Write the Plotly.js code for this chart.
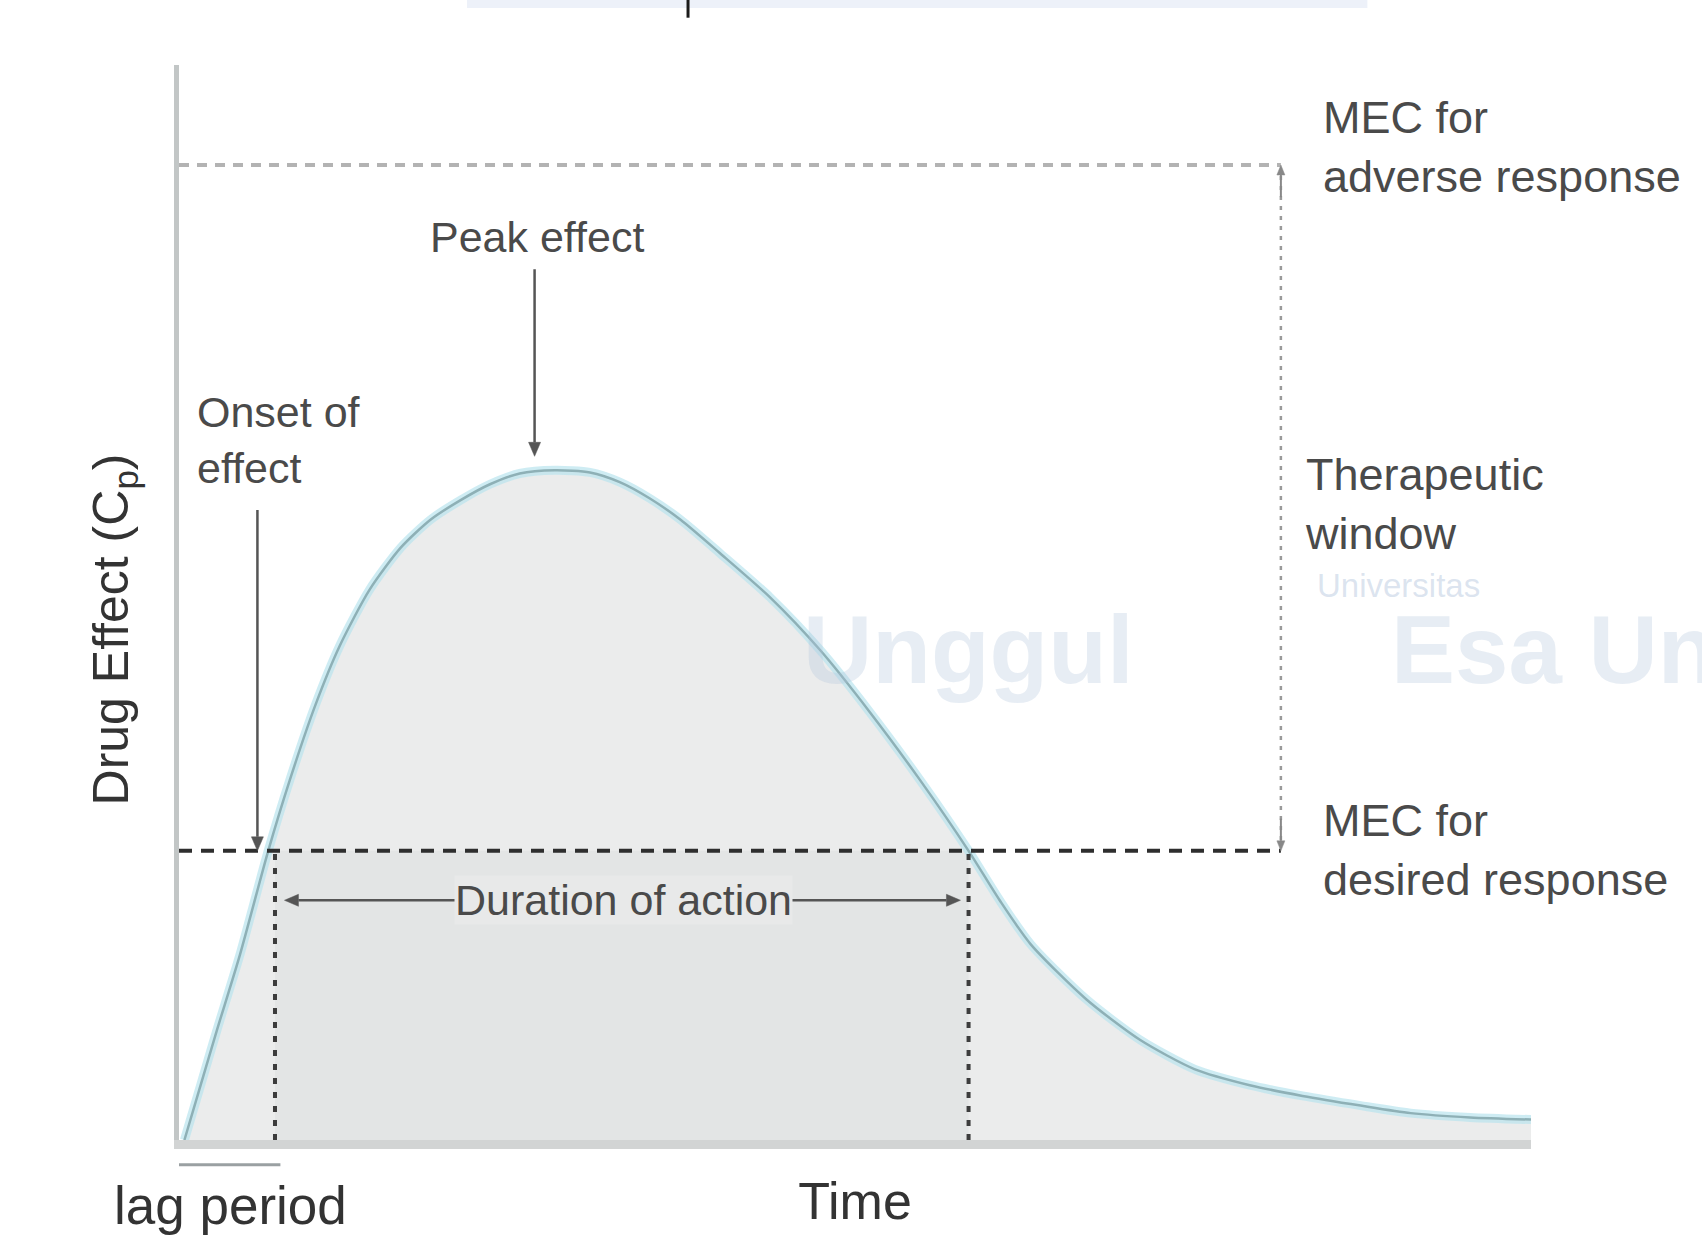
<!DOCTYPE html>
<html>
<head>
<meta charset="utf-8">
<script src="https://cdn.plot.ly/plotly-3.0.1.min.js"></script>
<style>
html,body{margin:0;padding:0;background:#ffffff;}
#chart{width:1702px;height:1243px;}
</style>
</head>
<body>
<div id="chart"></div>
<script>
// ---- data (arbitrary units: time 0-100, effect 0-100) ----
const timePoints = [0.4, 1.6, 2.8, 4.5, 6.6, 8.2, 10.1, 11.9, 14.1, 16.4, 18.6, 20.8, 23.0, 25.2, 27.8, 30.4, 32.6, 34.8, 37.1, 40.0, 43.7, 47.4, 51.1, 54.8, 58.4, 60.7, 63.0, 67.1, 71.1, 75.1, 79.2, 83.1, 87.4, 91.1, 95.5, 100];
const drugEffect = [0, 5.1, 10.2, 17.2, 26.9, 33.5, 40.5, 46.0, 51.2, 55.1, 57.7, 59.5, 61.0, 62.0, 62.3, 62.1, 61.2, 59.7, 57.7, 54.6, 50.5, 45.6, 39.8, 33.5, 26.9, 22.3, 18.2, 13.1, 9.3, 6.6, 5.1, 4.1, 3.2, 2.5, 2.1, 1.9];

const mecAdverse = 90.7;     // MEC for adverse response
const mecDesired = 26.9;     // MEC for desired response
const onsetTime = 7.1;       // curve crosses MEC (rising)
const offsetTime = 58.4;     // curve crosses MEC (falling)
const lagStart = 0;
const peakTime = 26.3;
const peakEffect = 63.6;

const labels = {
  adverse: 'MEC for<br>adverse response',
  window: 'Therapeutic<br>window',
  desired: 'MEC for<br>desired response',
  peak: 'Peak effect',
  onset: 'Onset of<br>effect',
  duration: 'Duration of action',
  lag: 'lag period',
  time: 'Time',
  yTitle: 'Drug Effect (C<sub>p</sub>)'
};

// ---- layout geometry ----
const W = 1702, H = 1243;
const M = {l: 179, r: 171, t: 65, b: 103};
const pxX = (W - M.l - M.r) / 100;   // pixels per x unit
const pxY = (H - M.t - M.b) / 100;   // pixels per y unit
const windowX = 81.5;
const textCol = '#4a4a4a';
const F = 'Liberation Sans, Arial, sans-serif';

// arrow built from a line shape and triangular head(s), sized in pixels
function arrow(x0, y0, x1, y1, col, w, headL, headW, both) {
  const out = [];
  function head(tx, ty, fx, fy) {
    const dx = (tx - fx) * pxX, dy = (ty - fy) * pxY;
    const len = Math.hypot(dx, dy);
    const ux = dx / len, uy = dy / len;
    const bx = tx * pxX - ux * headL, by = ty * pxY - uy * headL;
    const p1 = [(bx - uy * headW) / pxX, (by + ux * headW) / pxY];
    const p2 = [(bx + uy * headW) / pxX, (by - ux * headW) / pxY];
    out.push({type: 'path', xref: 'x', yref: 'y',
      path: `M ${tx},${ty} L ${p1[0]},${p1[1]} L ${p2[0]},${p2[1]} Z`,
      fillcolor: col, line: {color: col, width: 0.5}});
    return [bx / pxX, by / pxY];
  }
  const e = head(x1, y1, x0, y0);
  let s = [x0, y0];
  if (both) s = head(x0, y0, x1, y1);
  out.unshift({type: 'line', xref: 'x', yref: 'y', x0: s[0], y0: s[1], x1: e[0], y1: e[1],
    line: {color: col, width: w}});
  return out;
}

const traces = [
  {
    x: timePoints, y: drugEffect, type: 'scatter', mode: 'lines',
    fill: 'tozeroy', fillcolor: 'rgba(218,220,220,0.55)',
    line: {color: 'rgba(185,228,238,0.7)', width: 9, shape: 'spline', smoothing: 0.7},
    hoverinfo: 'skip', showlegend: false
  },
  {
    x: timePoints, y: drugEffect, type: 'scatter', mode: 'lines',
    line: {color: '#8eb0b6', width: 2.5, shape: 'spline', smoothing: 0.7},
    hoverinfo: 'skip', showlegend: false
  }
];

let shapes = [
  {type: 'rect', xref: 'x', yref: 'y', x0: onsetTime, x1: offsetTime, y0: 0, y1: mecDesired,
   fillcolor: '#eeefef', line: {width: 0}, layer: 'below'},
  {type: 'line', xref: 'x', yref: 'y', x0: 0, x1: windowX, y0: mecAdverse, y1: mecAdverse,
   line: {color: '#b3b3b3', width: 4, dash: '10px,8px'}},
  {type: 'line', xref: 'x', yref: 'y', x0: 0, x1: windowX, y0: mecDesired, y1: mecDesired,
   line: {color: '#2e2e2e', width: 4, dash: '13px,9px'}},
  {type: 'line', xref: 'x', yref: 'y', x0: onsetTime, x1: onsetTime, y0: 0, y1: mecDesired,
   line: {color: '#3c3c3c', width: 4, dash: '6px,8px'}},
  {type: 'line', xref: 'x', yref: 'y', x0: offsetTime, x1: offsetTime, y0: 0, y1: mecDesired,
   line: {color: '#3c3c3c', width: 4, dash: '6px,8px'}},
  {type: 'line', xref: 'x', yref: 'y', x0: windowX, x1: windowX, y0: mecDesired + 1, y1: mecAdverse - 1,
   line: {color: '#9a9a9a', width: 2.5, dash: '4px,6px'}},
  {type: 'line', xref: 'x', yref: 'paper', x0: lagStart, x1: onsetTime + 0.4, y0: -0.023, y1: -0.023,
   line: {color: '#9aa0a2', width: 3}},
  {type: 'rect', xref: 'paper', yref: 'paper', x0: 0.213, x1: 0.879, y0: 1.053, y1: 1.0605,
   fillcolor: 'rgba(225,232,245,0.6)', line: {width: 0}},
  {type: 'line', xref: 'paper', yref: 'paper', x0: 0.3765, x1: 0.3765, y0: 1.0605, y1: 1.044,
   line: {color: '#1a1a1a', width: 3}}
];
shapes = shapes
  .concat(arrow(5.8, 58.6, 5.8, mecDesired, '#555', 2.5, 14, 6, false))
  .concat(arrow(peakTime, 81, peakTime, peakEffect, '#555', 2.5, 14, 6, false))
  .concat(arrow(onsetTime + 0.7, 22.3, offsetTime - 0.6, 22.3, '#555', 2.5, 14, 6, true))
  .concat(arrow(windowX, mecAdverse - 3, windowX, mecAdverse, '#888', 2, 10, 4, false))
  .concat(arrow(windowX, mecDesired + 3, windowX, mecDesired, '#888', 2, 10, 4, false));

const annotations = [
  // watermark
  {x: 58.4, y: 45.6, xref: 'x', yref: 'y', text: '<b>Unggul</b>', showarrow: false,
   font: {family: F, size: 96, color: 'rgba(175,195,220,0.3)'}},
  {x: 89.5, y: 45.6, xref: 'x', yref: 'y', xanchor: 'left', text: '<b>Esa Unggul</b>', showarrow: false,
   font: {family: F, size: 96, color: 'rgba(175,195,220,0.3)'}},
  {x: 84.0, y: 51.6, xref: 'x', yref: 'y', xanchor: 'left', text: 'Universitas', showarrow: false,
   font: {family: F, size: 33, color: 'rgba(175,195,220,0.45)'}},
  // labels
  {x: 32.9, y: 22.3, xref: 'x', yref: 'y', text: labels.duration, showarrow: false,
   bgcolor: '#e8e9e9', borderpad: 0, font: {family: F, size: 43, color: textCol}},
  {x: 26.5, y: 84.0, xref: 'x', yref: 'y', text: labels.peak, showarrow: false,
   font: {family: F, size: 43, color: textCol}},
  {x: 1.2, y: 65.1, xref: 'x', yref: 'y', xanchor: 'left', align: 'left', text: labels.onset, showarrow: false,
   font: {family: F, size: 43, color: textCol}},
  {x: 84.5, y: 92.4, xref: 'x', yref: 'y', xanchor: 'left', align: 'left', text: labels.adverse, showarrow: false,
   font: {family: F, size: 45, color: textCol}},
  {x: 83.1, y: 59.2, xref: 'x', yref: 'y', xanchor: 'left', align: 'left', text: labels.window, showarrow: false,
   font: {family: F, size: 45, color: textCol}},
  {x: 84.5, y: 27.0, xref: 'x', yref: 'y', xanchor: 'left', align: 'left', text: labels.desired, showarrow: false,
   font: {family: F, size: 45, color: textCol}},
  {x: 3.8, y: -0.0605, xref: 'x', yref: 'paper', yanchor: 'middle', text: labels.lag, showarrow: false,
   font: {family: F, size: 53, color: '#333'}},
  {x: -0.048, y: 0.475, xref: 'paper', yref: 'paper', xanchor: 'center', yanchor: 'middle',
   textangle: -90, text: labels.yTitle, showarrow: false,
   font: {family: F, size: 50, color: '#333'}}
];

const layout = {
  width: W, height: H,
  margin: {l: M.l, r: M.r, t: M.t, b: M.b, pad: 0},
  paper_bgcolor: '#ffffff', plot_bgcolor: '#ffffff',
  showlegend: false,
  xaxis: {
    range: [0, 100], showgrid: false, zeroline: false, showticklabels: false, ticks: '',
    showline: true, linecolor: '#d2d4d4', linewidth: 9,
    title: {text: labels.time, font: {family: F, size: 52, color: '#333'}, standoff: 38}
  },
  yaxis: {
    range: [0, 100], showgrid: false, zeroline: false, showticklabels: false, ticks: '',
    showline: true, linecolor: '#c2c6c6', linewidth: 5
  },
  shapes: shapes,
  annotations: annotations
};

Plotly.newPlot('chart', traces, layout, {staticPlot: true, displayModeBar: false});
</script>
</body>
</html>
